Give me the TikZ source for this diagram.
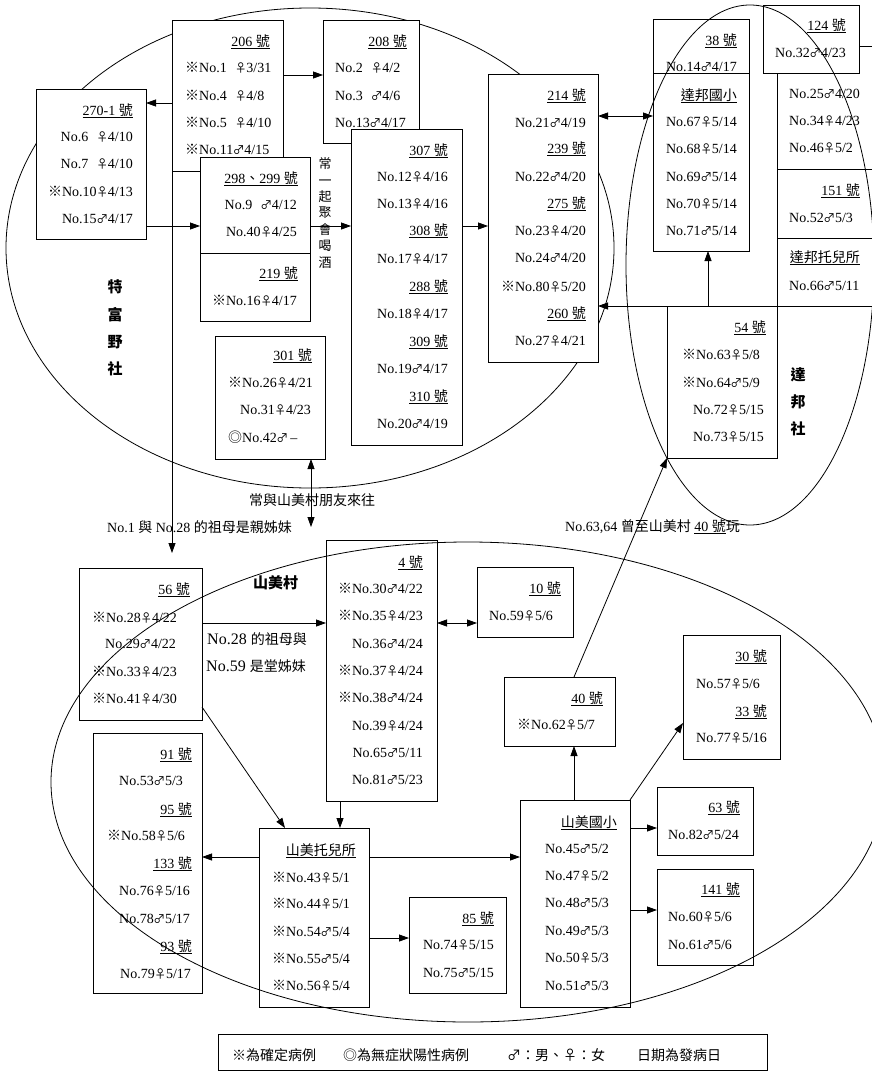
\documentclass[tikz,border=0pt]{standalone}
\usepackage{fontspec}
\setmainfont{Liberation Serif}
\newfontfamily\cjk{Noto Sans CJK TC}
\newfontfamily\cjksym[Scale=0.85]{Noto Sans CJK TC}
\usetikzlibrary{arrows.meta,fit,calc}
\newcommand\X{{\cjk ※}}
\newcommand\Oo{{\cjk ◎}}
\newcommand\Fm{\makebox[0.8em][c]{\cjksym ♀}}
\newcommand\Ml{\makebox[0.8em][c]{\cjksym ♂}}
\newcommand\hao[1]{\underline{#1~{\cjk 號}}}
\newcommand\hd[1]{\underline{{\cjk #1}}}
\newcounter{tn}
\tikzset{
  box/.style={draw, line width=0.9pt, fill=white, inner sep=0pt, outer sep=0pt},
  tl/.style={anchor=base west, inner sep=0pt, font=\fontsize{14}{16}\selectfont},
  tr/.style={anchor=base east, inner sep=0pt, font=\fontsize{14}{16}\selectfont},
  arr/.style={-{Triangle[length=10pt,width=7pt]}, line width=0.8pt},
  darr/.style={{Triangle[length=10pt,width=7pt]}-{Triangle[length=10pt,width=7pt]}, line width=0.8pt},
  ell/.style={line width=0.8pt},
  lbl/.style={inner sep=0pt, font=\cjk\fontsize{14}{16}\selectfont},
}
\newcommand\bx[5]{\node[box, fit={(#2,#3) (#4,#5)}] (#1) {};}
\newcommand\rowL[3]{\stepcounter{tn}\node[tl] (t\arabic{tn}) at (#1,#2) {#3};}
\newcommand\rowR[3]{\stepcounter{tn}\node[tr] (t\arabic{tn}) at (#1,#2) {#3};}
\begin{document}
\begin{tikzpicture}[x=1pt,y=-1pt]
\useasboundingbox (0,0) rectangle (872,1071);
\clip (0,0) rectangle (872,1071);
\fill[white] (0,0) rectangle (872,1071);
% Tefuye ellipse (behind boxes)
\draw[ell] (310,248) ellipse [x radius=304, y radius=240];
% ---------- upper boxes ----------
\bx{b206}{172}{20}{283}{171}
\bx{b298}{200}{157}{310}{253}
\bx{b219}{200}{253}{310}{321}
\bx{b208}{323}{20}{419}{143}
\bx{b307}{351}{129}{462}{445}
\bx{b270}{36}{89}{146}{239}
\bx{b301}{215}{336}{325}{459}
\bx{b214}{488}{74}{598}{362}
\bx{bR}{777}{46}{884}{306}
\draw[line width=0.9pt] (bR.west |- 0,169) -- (bR.east |- 0,169);
\draw[line width=0.9pt] (bR.west |- 0,238) -- (bR.east |- 0,238);
\bx{b124}{763}{5}{859}{73}
\bx{b38}{653}{19}{749}{73}
\bx{bDBS}{653}{73}{749}{251}
\bx{b54}{667}{306}{777}{458}
% ---------- lower boxes ----------
\bx{b56}{79}{568}{202}{720}
\bx{b4}{326}{540}{437}{801}
\bx{b10}{477}{567}{573}{637}
\bx{b40}{504}{677}{615}{746}
\bx{b30}{683}{635}{780}{759}
\bx{b91}{93}{733}{202}{993}
\bx{bTE}{259}{828}{369}{1007}
\bx{b85}{409}{897}{506}{993}
\bx{bSG}{520}{800}{630}{1007}
\bx{b63}{657}{787}{753}{855}
\bx{b141}{657}{869}{753}{965}
\bx{bLeg}{218}{1034}{767}{1070}
% ---------- texts ----------
% 206
\rowR{270}{46}{\hao{206}}
\rowL{185}{72}{\X No.1\hspace{.6em}\Fm3/31}
\rowL{185}{100}{\X No.4\hspace{.6em}\Fm4/8}
\rowL{185}{127}{\X No.5\hspace{.6em}\Fm4/10}
\rowL{185}{154}{\X No.11\Ml4/15}
% 208
\rowR{407}{46}{\hao{208}}
\rowL{335}{72}{No.2\hspace{.6em}\Fm4/2}
\rowL{335}{100}{No.3\hspace{.6em}\Ml4/6}
\rowL{335}{127}{No.13\Ml4/17}
% 270-1
\rowR{133}{115}{\hao{270-1}}
\rowR{133}{141}{No.6\hspace{.6em}\Fm4/10}
\rowR{133}{168}{No.7\hspace{.6em}\Fm4/10}
\rowR{133}{196}{\X No.10\Fm4/13}
\rowR{133}{223}{No.15\Ml4/17}
% 298 299
\rowR{298}{183}{\underline{298{\cjk 、}299~{\cjk 號}}}
\rowR{297}{209}{No.9\hspace{.6em}\Ml4/12}
\rowR{297}{236}{No.40\Fm4/25}
% 219
\rowR{298}{278}{\hao{219}}
\rowR{297}{305}{\X No.16\Fm4/17}
% 307 ...
\rowR{448}{155}{\hao{307}}
\rowL{377}{181}{No.12\Fm4/16}
\rowL{377}{208}{No.13\Fm4/16}
\rowR{448}{235}{\hao{308}}
\rowL{377}{263}{No.17\Fm4/17}
\rowR{448}{291}{\hao{288}}
\rowL{377}{318}{No.18\Fm4/17}
\rowR{448}{346}{\hao{309}}
\rowL{377}{373}{No.19\Ml4/17}
\rowR{448}{401}{\hao{310}}
\rowL{377}{428}{No.20\Ml4/19}
% 214 ...
\rowR{586}{100}{\hao{214}}
\rowR{586}{127}{No.21\Ml4/19}
\rowR{586}{153}{\hao{239}}
\rowR{586}{181}{No.22\Ml4/20}
\rowR{586}{208}{\hao{275}}
\rowR{586}{235}{No.23\Fm4/20}
\rowR{586}{262}{No.24\Ml4/20}
\rowR{586}{291}{\X No.80\Fm5/20}
\rowR{586}{318}{\hao{260}}
\rowR{586}{345}{No.27\Fm4/21}
% 301
\rowR{312}{360}{\hao{301}}
\rowL{228}{387}{\X No.26\Fm4/21}
\rowL{240}{414}{No.31\Fm4/23}
\rowL{228}{442}{\Oo No.42\Ml\,--}
% 38 / Dabang school
\rowR{737}{45}{\hao{38}}
\rowR{737}{71}{No.14\Ml4/17}
\rowR{737}{100}{\hd{達邦國小}}
\rowR{737}{126}{No.67\Fm5/14}
\rowR{737}{153}{No.68\Fm5/14}
\rowR{737}{181}{No.69\Ml5/14}
\rowR{737}{208}{No.70\Fm5/14}
\rowR{737}{235}{No.71\Ml5/14}
% 124 / right
\rowR{846}{30}{\hao{124}}
\rowL{775}{57}{No.32\Ml4/23}
\rowL{789}{98}{No.25\Ml4/20}
\rowL{789}{125}{No.34\Fm4/23}
\rowL{789}{152}{No.46\Fm5/2}
\rowR{860}{195}{\hao{151}}
\rowL{789}{222}{No.52\Ml5/3}
\rowR{860}{262}{\hd{達邦托兒所}}
\rowL{789}{290}{No.66\Ml5/11}
% 54
\rowR{766}{332}{\hao{54}}
\rowL{682}{359}{\X No.63\Fm5/8}
\rowL{682}{387}{\X No.64\Ml5/9}
\rowL{693}{414}{No.72\Fm5/15}
\rowL{693}{441}{No.73\Fm5/15}
% 56
\rowR{190}{594}{\hao{56}}
\rowL{92}{622}{\X No.28\Fm4/22}
\rowL{105}{648}{No.29\Ml4/22}
\rowL{92}{676}{\X No.33\Fm4/23}
\rowL{92}{703}{\X No.41\Fm4/30}
% 4
\rowR{423}{567}{\hao{4}}
\rowR{423}{593}{\X No.30\Ml4/22}
\rowR{423}{620}{\X No.35\Fm4/23}
\rowR{423}{648}{No.36\Ml4/24}
\rowR{423}{675}{\X No.37\Fm4/24}
\rowR{423}{702}{\X No.38\Ml4/24}
\rowR{423}{730}{No.39\Fm4/24}
\rowR{423}{757}{No.65\Ml5/11}
\rowR{423}{784}{No.81\Ml5/23}
% 10
\rowR{561}{593}{\hao{10}}
\rowL{489}{620}{No.59\Fm5/6}
% 40
\rowR{603}{703}{\hao{40}}
\rowL{517}{729}{\X No.62\Fm5/7}
% 30 / 33
\rowR{767}{661}{\hao{30}}
\rowL{696}{688}{No.57\Fm5/6}
\rowR{767}{716}{\hao{33}}
\rowL{696}{742}{No.77\Fm5/16}
% 91 ...
\rowR{192}{759}{\hao{91}}
\rowL{119}{785}{No.53\Ml5/3}
\rowR{192}{814}{\hao{95}}
\rowL{107}{840}{\X No.58\Fm5/6}
\rowR{192}{868}{\hao{133}}
\rowL{119}{895}{No.76\Fm5/16}
\rowL{119}{923}{No.78\Ml5/17}
\rowR{192}{951}{\hao{93}}
\rowL{120}{978}{No.79\Fm5/17}
% Shanmei nursery
\rowR{356}{855}{\hd{山美托兒所}}
\rowL{272}{882}{\X No.43\Fm5/1}
\rowL{272}{908}{\X No.44\Fm5/1}
\rowL{272}{936}{\X No.54\Ml5/4}
\rowL{272}{963}{\X No.55\Ml5/4}
\rowL{272}{990}{\X No.56\Fm5/4}
% 85
\rowR{494}{923}{\hao{85}}
\rowR{494}{949}{No.74\Fm5/15}
\rowR{494}{977}{No.75\Ml5/15}
% Shanmei school
\rowR{617}{827}{\hd{山美國小}}
\rowL{545}{853}{No.45\Ml5/2}
\rowL{545}{880}{No.47\Fm5/2}
\rowL{545}{907}{No.48\Ml5/3}
\rowL{545}{935}{No.49\Ml5/3}
\rowL{545}{962}{No.50\Fm5/3}
\rowL{545}{990}{No.51\Ml5/3}
% 63 / 141
\rowR{740}{812}{\hao{63}}
\rowL{668}{839}{No.82\Ml5/24}
\rowR{740}{894}{\hao{141}}
\rowL{668}{921}{No.60\Fm5/6}
\rowL{668}{949}{No.61\Ml5/6}
% legend
\node[lbl, anchor=base west] (lg1) at (232,1060) {※為確定病例};
\node[lbl, anchor=base west] (lg2) at (343,1060) {◎為無症狀陽性病例};
\node[lbl, anchor=base west] (lg3) at (507,1060) {♂：男、♀：女};
\node[lbl, anchor=base west] (lg4) at (637,1060) {日期為發病日};
% ---------- labels ----------
\node[font=\cjk\bfseries\fontsize{15}{27.3}\selectfont, align=center] (lTFY) at (115,328) {特\\富\\野\\社};
\node[font=\cjk\bfseries\fontsize{15}{27}\selectfont, align=center] (lDB) at (798,402) {達\\邦\\社};
\node[font=\cjk\fontsize{13}{16.4}\selectfont, align=center] (lDrink) at (325,213) {常\\一\\起\\聚\\會\\喝\\酒};
\node[font=\cjk\bfseries\fontsize{15}{17}\selectfont, anchor=west, inner sep=0pt] (lSM) at (253,583) {山美村};
\node[lbl] (lFriend) at (312,500) {常與山美村朋友來往};
\node[tl] (lSis) at (107,532) {No.1 {\cjk 與} No.28 {\cjk 的祖母是親姊妹}};
\node[tl] (lPlay) at (565,531) {No.63,64 {\cjk 曾至山美村} \underline{40 {\cjk 號}}{\cjk 玩}};
\node[anchor=base west, inner sep=0pt, font=\fontsize{16}{18}\selectfont] (lCous1) at (207,644) {No.28 {\cjk\fontsize{14}{16}\selectfont 的祖母與}};
\node[anchor=base west, inner sep=0pt, font=\fontsize{16}{18}\selectfont] (lCous2) at (206,671) {No.59 {\cjk\fontsize{14}{16}\selectfont 是堂姊妹}};
% ---------- other ellipses ----------
\draw[ell] (750,265) ellipse [x radius=124, y radius=260];
\draw[ell] (468,782) ellipse [x radius=417, y radius=240];
% ---------- connectors ----------
\coordinate (c301) at (311,527);
\draw[arr] (b206.east |- 0,75) -- (b208.west |- 0,75);
\draw[arr] (b206.west |- 0,103) -- (b270.east |- 0,103);
\draw[arr] (b270.east |- 0,226) -- (b298.west |- 0,226);
\draw[arr] (b298.east |- 0,226) -- (b307.west |- 0,226);
\draw[arr] (b307.east |- 0,226) -- (b214.west |- 0,226);
\draw[darr] (b214.east |- 0,116) -- (bDBS.west |- 0,116);
\draw[arr] (b54.north west) -- (b214.east |- b54.north west);
\draw[arr] ([xshift=41pt]b54.north west) -- ([xshift=41pt]b54.north west |- bDBS.south);
\draw[arr] (b206.south west) -- (b206.south west |- 0,553);
\draw[darr] (c301 |- b301.south) -- (c301);
\draw[arr] (b56.east |- 0,623) -- (b4.west |- 0,623);
\draw[darr] (b4.east |- 0,623) -- (b10.west |- 0,623);
\draw[arr] (b56.east |- 0,707) -- ([xshift=26pt]bTE.north west);
\draw[arr] (b4.south -| 340,0) -- (bTE.north -| 340,0);
\draw[arr] (bTE.west |- 0,857) -- (b91.east |- 0,857);
\draw[arr] (bTE.east |- 0,857) -- (bSG.west |- 0,857);
\draw[arr] (bTE.east |- 0,938) -- (b85.west |- 0,938);
\draw[arr] (bSG.north -| 574,0) -- (b40.south -| 574,0);
\draw[arr] (bSG.north east) -- (b30.west |- 0,723);
\draw[arr] (bSG.east |- 0,828) -- (b63.west |- 0,828);
\draw[arr] (bSG.east |- 0,910) -- (b141.west |- 0,910);
\draw[arr] (b40.north -| 574,0) -- (b54.south west);
\end{tikzpicture}
\end{document}
